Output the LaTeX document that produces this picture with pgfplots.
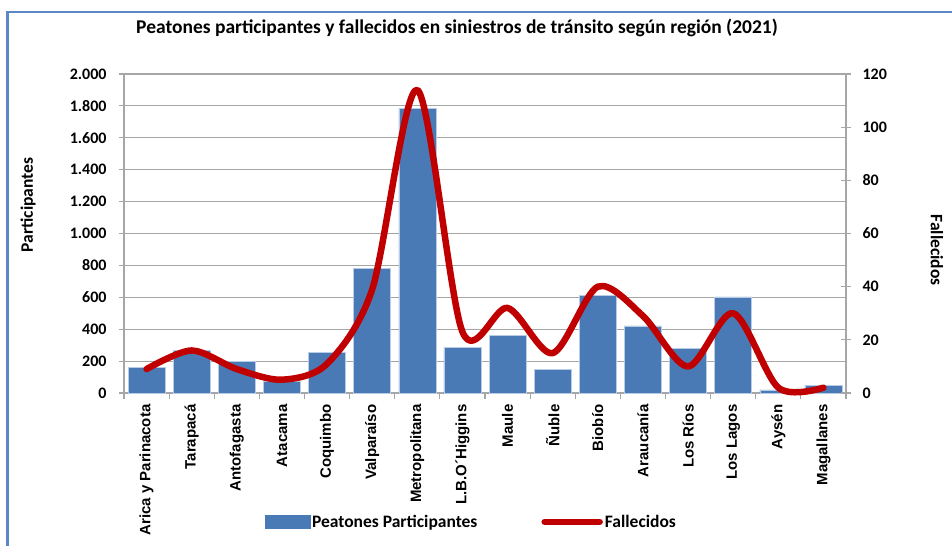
\documentclass[border=0pt]{standalone}
\usepackage{pgfplots}
\pgfplotsset{compat=1.18}
\usepackage{pgfplotstable}
\usepackage{fontspec}
\setmainfont{Carlito}
\newfontfamily\arialb{Liberation Sans}
\definecolor{barblue}{HTML}{4A7AB6}
\definecolor{baredge}{HTML}{B9CCE6}
\definecolor{linered}{HTML}{C00000}
\definecolor{framecol}{HTML}{5B88C4}
\definecolor{gridgray}{HTML}{A6A6A6}

\pgfplotstableread{
x part fall
0 160 9
1 265 16
2 200 9
3 75 5
4 254 11
5 780 39
6 1785 114
7 285 23
8 362 32
9 146 15
10 612 40
11 421 29
12 279 10
13 602 30
14 19 2
15 50 2
}\datatab

\begin{document}
\begin{tikzpicture}
\useasboundingbox (0pt,0pt) rectangle (952pt,546pt);
\draw[framecol, line width=2.5pt] (7.5pt,0pt) -- (7.5pt,534pt) -- (952pt,534pt);
\node[font=\bfseries\fontsize{19.5}{19.5}\selectfont] at (457pt,518pt) {Peatones participantes y fallecidos en siniestros de tránsito según región (2021)};
\node[font=\bfseries\fontsize{17.5}{17.5}\selectfont, rotate=90] at (28pt,341pt) {Participantes};
\node[font=\bfseries\fontsize{17.5}{17.5}\selectfont, rotate=-90] at (937pt,296pt) {Fallecidos};

\begin{axis}[
  at={(124pt,153pt)}, anchor=south west,
  scale only axis, width=722pt, height=319pt,
  xmin=-0.5, xmax=15.5, ymin=0, ymax=2000,
  axis y line*=left, axis x line*=bottom,
  axis line style={gridgray, line width=1.2pt},
  ytick={0,200,...,2000},
  ymajorgrids, grid style={gridgray, line width=1.2pt},
  major tick style={gridgray, line width=1.2pt},
  tick align=outside, major tick length=5pt,
  /pgf/number format/assume math mode=true,
  /pgf/number format/1000 sep={.},
  yticklabel style={font=\bfseries\fontsize{16}{16}\selectfont, xshift=-9pt},
  xtick={0,...,15},
  xticklabels={Arica y Parinacota,Tarapacá,Antofagasta,Atacama,Coquimbo,Valparaíso,Metropolitana,L.B.O´Higgins,Maule,Ñuble,Biobío,Araucanía,Los Ríos,Los Lagos,Aysén,Magallanes},
  xticklabel style={rotate=90, anchor=east, font=\arialb\bfseries\fontsize{15}{15}\selectfont, xshift=-3pt},
  xtick style={draw=none},
  extra x ticks={-0.5,0.5,...,15.5},
  extra x tick labels={},
  extra x tick style={xtick style={draw=gridgray}, major tick length=6pt},
  clip=false,
]
\addplot[ybar, bar width=0.82, fill=barblue, draw=baredge, line width=0.6pt] table[x=x,y=part] {\datatab};
\end{axis}

\begin{axis}[
  at={(124pt,153pt)}, anchor=south west,
  scale only axis, width=722pt, height=319pt,
  xmin=-0.5, xmax=15.5, ymin=0, ymax=120,
  axis y line*=right, axis x line=none,
  axis line style={gridgray, line width=1.2pt},
  ytick={0,20,...,120},
  major tick style={gridgray, line width=1.2pt},
  tick align=center, major tick length=10pt,
  /pgf/number format/assume math mode=true,
  yticklabel style={font=\bfseries\fontsize{16}{16}\selectfont, xshift=8pt},
  legend columns=2,
  legend style={draw=none, fill=none, at={(0.481,-0.404)}, anchor=center,
    font=\bfseries\fontsize{17.5}{17.5}\selectfont,
    /tikz/every even column/.append style={column sep=62pt},
    inner sep=0pt},
  clip=false,
]
\addlegendimage{legend image code/.code={\fill[barblue] (-2pt,-6.5pt) rectangle (43pt,6.5pt);}}
\addlegendentry{Peatones Participantes}
\addplot[linered, line width=6.5pt, smooth, tension=0.5, line cap=round, line join=round,
  legend image code/.code={\draw[linered, line width=6.5pt, line cap=round] (0pt,0pt) -- (55pt,0pt);}]
  table[x=x,y=fall] {\datatab};
\addlegendentry{Fallecidos}
\end{axis}
\end{tikzpicture}
\end{document}
